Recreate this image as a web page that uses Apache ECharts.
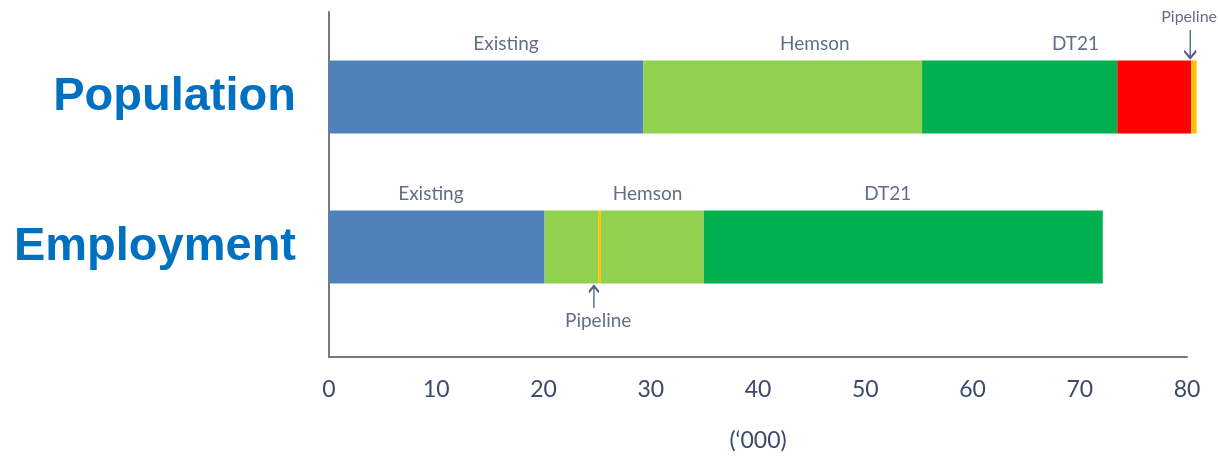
<!DOCTYPE html>
<html>
<head>
<meta charset="utf-8">
<script src="https://cdn.jsdelivr.net/npm/echarts@6/dist/echarts.min.js"></script>
<style>html,body{margin:0;padding:0;background:#fff}#c{width:1218px;height:457px}</style>
</head>
<body>
<div id="c"></div>
<script>
// ---- data ----
const categories = ['Population', 'Employment'];
const xTicks = [0, 10, 20, 30, 40, 50, 60, 70, 80];
const existing = [29.3, 20.1];
const hemsonBeforePipeline = [0, 5.0];
const pipelineEmployment = [0, 0.25];
const hemson = [26.0, 9.6];
const dt21 = [18.2, 37.2];
const other = [6.9, 0];
const pipelinePopulation = [0.5, 0];
const axisUnit = "(‘000)";
// annotation labels: [text, x value, category, above(-)/below(+)]
const annotations = [
  ['Existing', 16.5, 'Population', -1],
  ['Hemson', 45.3, 'Population', -1],
  ['DT21', 69.6, 'Population', -1],
  ['Pipeline', 80.2, 'Population', -2],
  ['Existing', 9.5, 'Employment', -1],
  ['Hemson', 29.7, 'Employment', -1],
  ['DT21', 52.1, 'Employment', -1],
  ['Pipeline', 25.1, 'Employment', 2]
];
const arrows = [
  [80.3, 'Population', 'down'],
  [24.7, 'Employment', 'up']
];

const textColor = '#3b4a6a';
const chart = echarts.init(document.getElementById('c'), null, {renderer: 'canvas'});

const barBase = {type: 'bar', stack: 'total', xAxisIndex: 1, yAxisIndex: 1, barWidth: 73, clip: false};
const mk = (name, data, color) => Object.assign({}, barBase, {name, data, itemStyle: {color}});

const offsetFor = (pos) => pos === -1 ? -53 : pos === -2 ? -80 : 74;

chart.setOption({
  animation: false,
  grid: [
    {left: 329, width: 858, top: 12, height: 346},
    {left: 329, width: 858, top: 22, height: 300}
  ],
  xAxis: [
    {gridIndex: 0, type: 'value', min: xTicks[0], max: xTicks[xTicks.length - 1], interval: 10,
     axisLine: {show: true, lineStyle: {color: '#7a7a7a', width: 2}},
     axisTick: {show: false}, splitLine: {show: false},
     axisLabel: {fontFamily: 'Lato', fontSize: 23, color: textColor, margin: 21},
     name: axisUnit, nameLocation: 'middle', nameGap: 72,
     nameTextStyle: {fontFamily: 'Lato', fontSize: 23, color: textColor}},
    {gridIndex: 1, type: 'value', min: 0, max: 80, show: false}
  ],
  yAxis: [
    {gridIndex: 0, type: 'value', min: 0, max: 1,
     axisLine: {show: true, lineStyle: {color: '#7a7a7a', width: 2}},
     axisTick: {show: false}, axisLabel: {show: false}, splitLine: {show: false}},
    {gridIndex: 1, type: 'category', inverse: true, data: categories,
     axisLine: {show: false}, axisTick: {show: false},
     axisLabel: {fontFamily: 'Liberation Sans', fontWeight: 'bold', fontSize: 47, color: '#0070c0', margin: 33}}
  ],
  series: [
    mk('Existing', existing, '#4f81bd'),
    mk('Hemson', hemsonBeforePipeline, '#92d050'),
    mk('Pipeline', pipelineEmployment, '#ffc000'),
    mk('Hemson', hemson, '#92d050'),
    mk('DT21', dt21, '#00b050'),
    mk('Other', other, '#ff0000'),
    mk('Pipeline', pipelinePopulation, '#ffc000'),
    {type: 'scatter', xAxisIndex: 1, yAxisIndex: 1, symbolSize: 0, clip: false, z: 10,
     data: annotations.map(a => ({
       value: [a[1], a[2]],
       label: {show: true, position: 'inside', formatter: a[0], offset: [0, offsetFor(a[3])],
               fontFamily: 'Lato', fontSize: a[3] === -2 ? 16 : 19, color: textColor}
     }))},
    {type: 'scatter', xAxisIndex: 1, yAxisIndex: 1, clip: false, z: 10,
     data: arrows.map(a => ({
       value: [a[0], a[1]],
       symbol: a[2] === 'down' ? 'path://M6,0 L6,28 M0,21 L6,28 L12,21' : 'path://M5,22 L5,0 M0,6 L5,0 L10,6',
       symbolSize: a[2] === 'down' ? [12, 28] : [10, 22],
       symbolKeepAspect: false,
       symbolOffset: [0, a[2] === 'down' ? -53 : 50],
       itemStyle: {color: 'none', borderColor: '#1f3864', borderWidth: 2}
     }))}
  ]
});
</script>
</body>
</html>
